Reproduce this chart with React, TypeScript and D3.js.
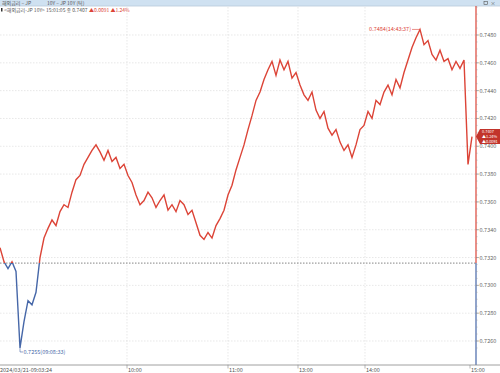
import React from "react";
import * as d3 from "d3";

const values: number[] = [
  0.7327, 0.7317, 0.7312, 0.7317, 0.7310, 0.7255, 0.7274, 0.7289, 0.7286, 0.7295,
  0.7320, 0.7334, 0.7341, 0.7347, 0.7343, 0.7353, 0.7358, 0.7356, 0.7367, 0.7376,
  0.7379, 0.7387, 0.7392, 0.7397, 0.7401, 0.7396, 0.7390, 0.7397, 0.7389, 0.7392,
  0.7384, 0.7387, 0.7379, 0.7374, 0.7365, 0.7358, 0.7361, 0.7367, 0.7363, 0.7356,
  0.7361, 0.7365, 0.7354, 0.7358, 0.7353, 0.7361, 0.7358, 0.7351, 0.7354, 0.7345,
  0.7336, 0.7333, 0.7338, 0.7334, 0.7343, 0.7348, 0.7354, 0.7365, 0.7372, 0.7383,
  0.7392, 0.7401, 0.7412, 0.7422, 0.7433, 0.7439, 0.7448, 0.7455, 0.7461, 0.7451,
  0.7462, 0.7455, 0.7461, 0.7449, 0.7453, 0.7444, 0.7437, 0.7433, 0.7439, 0.7426,
  0.7420, 0.7425, 0.7413, 0.7408, 0.7412, 0.7403, 0.7397, 0.7401, 0.7392, 0.7401,
  0.7412, 0.7415, 0.7425, 0.7420, 0.7433, 0.7430, 0.7439, 0.7444, 0.7437, 0.7448,
  0.7442, 0.7453, 0.7462, 0.7471, 0.7478, 0.7484, 0.7473, 0.7476, 0.7466, 0.7462,
  0.7469, 0.7461, 0.7463, 0.7455, 0.7461, 0.7456, 0.7462, 0.7387, 0.7407,
];

const prevClose = 0.7316;
const yTicks: number[] = [0.726, 0.728, 0.73, 0.732, 0.734, 0.736, 0.738, 0.74, 0.742, 0.744, 0.746, 0.748];
const timeTickLabels: string[] = ["10:00", "11:00", "13:00", "14:00", "15:00"];
const timeTickIndex: number[] = [31.75, 57, 74.5, 91.25, 117.5];
const startLabel = "2024/03/21-09:03:24";
const maxLabel = "0.7484(14:43:37)";
const minLabel = "0.7255(09:08:33)";
const lastBoxLines: string[] = ["0.7407", "▲1.24%", "▲0.0091"];

const W = 500;
const H = 373;
const RED = "#dc4437";
const BLUE = "#4667a8";
const FONT = "'Noto Sans CJK KR', 'Noto Sans', sans-serif";

export default function App() {
  const plotRight = 476;
  const plotBottom = 365;
  const x = d3.scaleLinear().domain([0, values.length - 1]).range([0, 472]);
  const y = d3.scaleLinear().domain([0.726, 0.748]).range([341, 35]);
  const line = d3
    .line<number>()
    .x((_, i) => x(i))
    .y((d) => y(d))
    .curve(d3.curveLinear);
  const yRef = y(prevClose);
  const minorTicks = d3.range(0.7255, 0.7501, 0.0005);
  const maxI = d3.maxIndex(values);
  const minI = d3.minIndex(values);
  const last = values[values.length - 1];
  const yLast = y(last);

  return (
    <svg
      width={W}
      height={H}
      style={{ position: "absolute", left: 0, top: 0, background: "#fff" }}
      fontFamily={FONT}
    >
      <defs>
        <clipPath id="above">
          <rect x={0} y={0} width={plotRight} height={yRef} />
        </clipPath>
        <clipPath id="below">
          <rect x={0} y={yRef} width={plotRight} height={plotBottom - yRef} />
        </clipPath>
      </defs>

      {/* header */}
      <rect x={0} y={0} width={W} height={6} fill="#cfe1f1" />
      <line x1={0} x2={W} y1={6} y2={6} stroke="#b7c9da" strokeWidth={0.8} />
      <text x={2} y={4.8} fontSize={5} fill="#555">
        해외금리 – JP
      </text>
      <text x={47} y={4.8} fontSize={5} fill="#555">
        10Y – JP 10Y (틱)
      </text>
      <rect x={484} y={1.5} width={3.5} height={3} fill="none" stroke="#555" strokeWidth={0.6} />
      <text x={490.5} y={5.3} fontSize={5} fill="#555">
        ×
      </text>
      <rect x={1} y={8} width={1.5} height={3.5} fill="#333" />
      <text x={4} y={11.5} fontSize={5} fill="#555">
        {"<해외금리-JP 10Y> 15:01:05 종 0.7407"}
      </text>
      <text x={89} y={11.5} fontSize={5} fill={RED}>
        {"▲0.0091  ▲1.24%"}
      </text>

      {/* grid */}
      {yTicks.map((t) => (
        <line
          key={"g" + t}
          x1={0}
          x2={plotRight}
          y1={y(t)}
          y2={y(t)}
          stroke="#d8d8d8"
          strokeWidth={0.6}
          strokeDasharray="1.5,1.5"
        />
      ))}
      {timeTickIndex.slice(0, 4).map((ti) => (
        <line
          key={"v" + ti}
          x1={x(ti)}
          x2={x(ti)}
          y1={7}
          y2={plotBottom}
          stroke="#d8d8d8"
          strokeWidth={0.6}
          strokeDasharray="1.5,1.5"
        />
      ))}

      {/* previous close */}
      <line
        x1={0}
        x2={plotRight}
        y1={yRef}
        y2={yRef}
        stroke="#666"
        strokeWidth={0.8}
        strokeDasharray="1.5,1.5"
      />

      {/* price line */}
      <path d={line(values) || ""} fill="none" stroke={RED} strokeWidth={1.4} strokeLinejoin="miter" clipPath="url(#above)" />
      <path d={line(values) || ""} fill="none" stroke={BLUE} strokeWidth={1.4} strokeLinejoin="miter" clipPath="url(#below)" />

      {/* right axis */}
      <line x1={plotRight} x2={plotRight} y1={6} y2={yRef} stroke={RED} strokeWidth={1.2} />
      <line x1={plotRight} x2={plotRight} y1={yRef} y2={plotBottom} stroke={BLUE} strokeWidth={1.2} />
      {minorTicks.map((t) => (
        <line key={"m" + t} x1={plotRight} x2={plotRight + 1.5} y1={y(t)} y2={y(t)} stroke="#999" strokeWidth={0.5} />
      ))}
      {yTicks.map((t) => (
        <g key={"t" + t}>
          <line x1={plotRight} x2={plotRight + 3} y1={y(t)} y2={y(t)} stroke="#888" strokeWidth={0.6} />
          <text x={plotRight + 3.5} y={y(t) + 2} fontSize={5.5} fill="#666">
            {t.toFixed(4)}
          </text>
        </g>
      ))}

      {/* last value box */}
      <path
        d={`M${plotRight},${yLast} L${plotRight + 4},${yLast - 7.5} L${W},${yLast - 7.5} L${W},${yLast + 7.5} L${plotRight + 4},${yLast + 7.5} Z`}
        fill="#c2342b"
      />
      {lastBoxLines.map((s, k) => (
        <text key={s} x={plotRight + 6} y={yLast - 3.2 + k * 4.6} fontSize={3.9} fill="#fff">
          {s}
        </text>
      ))}

      {/* bottom axis */}
      <line x1={0} x2={W} y1={plotBottom} y2={plotBottom} stroke="#888" strokeWidth={0.8} />
      <text x={0} y={372} fontSize={5.5} fill="#555">
        {startLabel}
      </text>
      {timeTickIndex.map((ti, k) => (
        <g key={"xt" + ti}>
          <line x1={x(ti)} x2={x(ti)} y1={plotBottom} y2={plotBottom + 3.5} stroke="#888" strokeWidth={0.6} />
          <text x={x(ti) + 1} y={372} fontSize={5.5} fill="#555">
            {timeTickLabels[k]}
          </text>
        </g>
      ))}

      {/* max / min annotations */}
      <line x1={x(maxI) - 8} x2={x(maxI)} y1={y(values[maxI])} y2={y(values[maxI])} stroke={RED} strokeWidth={0.6} />
      <text x={x(maxI) - 9} y={y(values[maxI]) + 2} fontSize={5.5} fill={RED} textAnchor="end">
        {maxLabel}
      </text>
      <path
        d={`M${x(minI)},${y(values[minI])} L${x(minI)},${y(values[minI]) + 4} L${x(minI) + 3},${y(values[minI]) + 4}`}
        fill="none"
        stroke={BLUE}
        strokeWidth={0.6}
      />
      <text x={x(minI) + 3.5} y={y(values[minI]) + 6} fontSize={5.5} fill={BLUE}>
        {minLabel}
      </text>
    </svg>
  );
}
